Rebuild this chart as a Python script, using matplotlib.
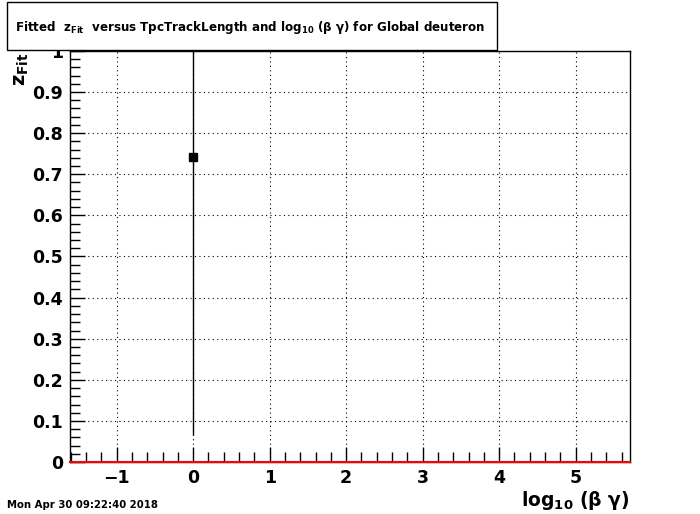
import matplotlib.pyplot as plt
from matplotlib.patches import Rectangle
from matplotlib.ticker import MultipleLocator

# Data
log_bg = [0.0]
z_fit = [0.742]
z_err = [0.675]

x_limits = (-1.61, 5.71)
y_limits = (0.0, 1.0)

fig = plt.figure(figsize=(7.0, 5.14), dpi=100)
ax = fig.add_axes([0.1, 0.101, 0.8, 0.8])

ax.errorbar(log_bg, z_fit, yerr=z_err, fmt='s', color='black',
            markersize=6, elinewidth=1.0, capsize=0, zorder=5, clip_on=True)
ax.axhline(0, color='red', linewidth=1.5, zorder=6, clip_on=False)

ax.set_xlim(*x_limits)
ax.set_ylim(*y_limits)

ax.xaxis.set_major_locator(MultipleLocator(1))
ax.xaxis.set_minor_locator(MultipleLocator(0.2))
ax.yaxis.set_major_locator(MultipleLocator(0.1))
ax.yaxis.set_minor_locator(MultipleLocator(0.02))

ax.tick_params(which='both', direction='in', top=False, right=False,
               labelsize=12.5, width=1)
ax.tick_params(which='major', length=11)
ax.tick_params(which='minor', length=7)
ax.tick_params(axis='x', pad=5)
ax.tick_params(axis='y', pad=5)

ax.yaxis.set_major_formatter(plt.FuncFormatter(
    lambda v, p: '0' if abs(v) < 1e-9 else ('1' if abs(v - 1) < 1e-9 else f'{v:.1f}')))
for lab in ax.get_xticklabels() + ax.get_yticklabels():
    lab.set_fontweight('bold')

ax.grid(True, which='major', color='black', linestyle=(0, (1, 3)), linewidth=0.8)
ax.set_axisbelow(True)
for s in ax.spines.values():
    s.set_linewidth(1.0)

# title box
fig.patches.append(Rectangle((7 / 700, 1 - 50 / 514), 490 / 700, 48 / 514,
                             transform=fig.transFigure, facecolor='white',
                             edgecolor='black', linewidth=1.0, zorder=10))
fig.text(250 / 700, 1 - 28 / 514,
         r'Fitted  $\mathbf{z_{Fit}}$  versus TpcTrackLength and $\mathbf{log_{10}}$ (β γ) for Global deuteron',
         ha='center', va='center', fontsize=8.6, fontweight='bold', zorder=11)

# axis titles
fig.text(22 / 700, 1 - 52 / 514, r'$\mathbf{z_{Fit}}$', rotation=90,
         ha='center', va='top', fontsize=14)
fig.text(630 / 700, 1 - 506 / 514, r'$\mathbf{log_{10}}$ (β γ)',
         ha='right', va='baseline', fontsize=13.5, fontweight='bold')

# date stamp
fig.text(7 / 700, 1 - 508 / 514, 'Mon Apr 30 09:22:40 2018',
         ha='left', va='baseline', fontsize=7.3, fontweight='bold')

fig.savefig('out.png', dpi=100)
